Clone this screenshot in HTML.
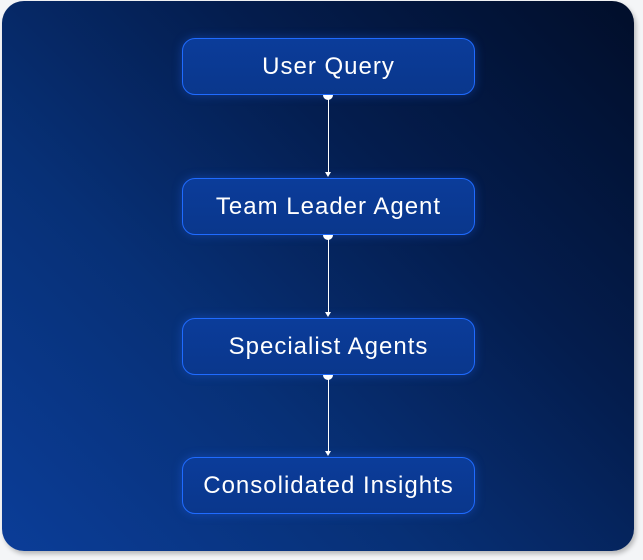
<!DOCTYPE html>
<html><head><style>
html,body{margin:0;padding:0;width:643px;height:560px;background:#f4f5f7;overflow:hidden;}
.card{position:absolute;left:2px;top:1px;width:632px;height:550px;border-radius:22px;
background:linear-gradient(45deg,#0b3d98 0%,#073076 35%,#041d4e 65%,#010e2a 100%);
box-shadow:2px 3px 5px rgba(0,0,0,0.25);}
.node{position:absolute;left:182px;width:291px;height:55px;border:1px solid #1f6bff;border-radius:13px;
background:linear-gradient(180deg,#0b3c9a,#0a378c);box-shadow:0 0 10px rgba(40,110,255,0.35);
color:#fff;font-family:"Liberation Sans",sans-serif;font-size:24px;text-align:center;line-height:55px;letter-spacing:1px;}
.dot{position:absolute;left:323px;width:10px;height:5px;background:#fff;border-radius:0 0 5px 5px;}
.line{position:absolute;left:327.5px;width:1px;background:#fff;}
.arr{position:absolute;left:325px;width:0;height:0;border-left:3px solid transparent;border-right:3px solid transparent;border-top:5px solid #fff;}
</style></head><body>
<div class="card"></div>
<div class="node" style="top:38px">User Query</div>
<div class="node" style="top:178px">Team Leader Agent</div>
<div class="node" style="top:318px">Specialist Agents</div>
<div class="node" style="top:457px">Consolidated Insights</div>

<div class="dot" style="top:95px"></div><div class="line" style="top:99px;height:73px"></div><div class="arr" style="top:172px"></div>
<div class="dot" style="top:235px"></div><div class="line" style="top:239px;height:73px"></div><div class="arr" style="top:312px"></div>
<div class="dot" style="top:375px"></div><div class="line" style="top:379px;height:72px"></div><div class="arr" style="top:451px"></div>
</body></html>
